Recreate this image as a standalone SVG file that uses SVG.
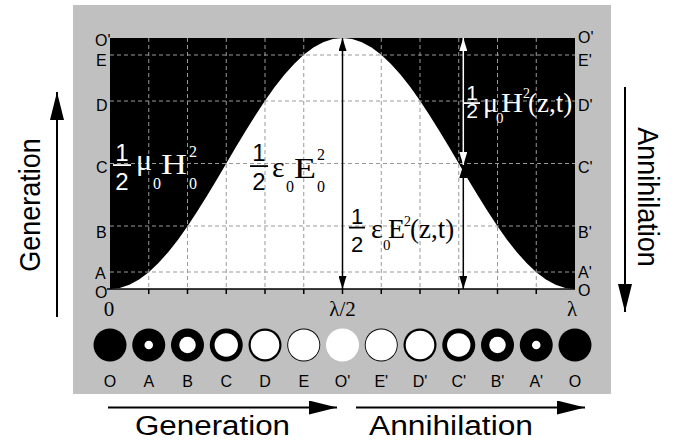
<svg xmlns="http://www.w3.org/2000/svg" width="686" height="448" viewBox="0 0 686 448">
<style>
.s{font-family:"Liberation Sans",Arial,sans-serif}
.r{font-family:"Liberation Serif","Times New Roman",serif}
.lab{font-family:"Liberation Sans",Arial,sans-serif;font-size:16px;fill:#000}
.grid{stroke:#999;stroke-width:1;stroke-dasharray:4 3;fill:none}
.big{font-family:"Liberation Sans",Arial,sans-serif;font-size:27px;fill:#000}
.w{fill:#fff}
.k{fill:#000}
</style>
<defs>
<marker id="hb" markerUnits="userSpaceOnUse" viewBox="0 0 13 8" refX="13" refY="4" markerWidth="13" markerHeight="8" orient="auto-start-reverse"><path d="M0,0 L13,4 L0,8 Z" fill="#000"/></marker>
<marker id="hw" markerUnits="userSpaceOnUse" viewBox="0 0 13 8" refX="13" refY="4" markerWidth="13" markerHeight="8" orient="auto-start-reverse"><path d="M0,0 L13,4 L0,8 Z" fill="#fff"/></marker>
<marker id="hl" markerUnits="userSpaceOnUse" viewBox="0 0 28 14" refX="28" refY="7" markerWidth="28" markerHeight="14" orient="auto"><path d="M0,0 L28,7 L0,14 Z" fill="#000"/></marker>
</defs>
<rect width="686" height="448" fill="#fff"/>
<rect id="panel" x="73" y="5" width="538" height="389" fill="#c0c0c0"/>
<g id="plot">
<rect x="110" y="38" width="465" height="251" fill="#000"/>
<path fill="#fff" d="M110,289 L119.69,287.93 L129.38,284.72 L139.06,279.45 L148.75,272.19 L158.44,263.07 L168.13,252.24 L177.81,239.9 L187.5,226.25 L197.19,211.53 L206.88,195.98 L216.56,179.88 L226.25,163.5 L235.94,147.12 L245.63,131.02 L255.31,115.47 L265,100.75 L274.69,87.1 L284.38,74.76 L294.06,63.93 L303.75,54.81 L313.44,47.55 L323.13,42.28 L332.81,39.07 L342.5,38 L352.19,39.07 L361.88,42.28 L371.56,47.55 L381.25,54.81 L390.94,63.93 L400.63,74.76 L410.31,87.1 L420,100.75 L429.69,115.47 L439.38,131.02 L449.06,147.12 L458.75,163.5 L468.44,179.88 L478.13,195.98 L487.81,211.53 L497.5,226.25 L507.19,239.9 L516.88,252.24 L526.56,263.07 L536.25,272.19 L545.94,279.45 L555.63,284.72 L565.31,287.93 L575,289 Z"/>
<path class="grid" d="M148.75,38V289 M187.5,38V289 M226.25,38V289 M265,38V289 M303.75,38V289 M342.5,38V289 M381.25,38V289 M420,38V289 M458.75,38V289 M497.5,38V289 M536.25,38V289 M110,55H575 M110,101H575 M110,163.5H575 M110,226H575 M110,272H575"/>
<path stroke="#000" stroke-width="1.5" fill="none" d="M107,289H575 M148.75,289v5 M187.5,289v5 M226.25,289v5 M265,289v5 M303.75,289v5 M342.5,289v5 M381.25,289v5 M420,289v5 M458.75,289v5 M497.5,289v5 M536.25,289v5"/>
</g>
<g id="axis-labels">
<text class="lab" x="95" y="46">O'</text>
<text class="lab" x="96" y="66">E</text>
<text class="lab" x="96" y="111">D</text>
<text class="lab" x="96" y="173">C</text>
<text class="lab" x="96" y="238">B</text>
<text class="lab" x="95" y="279">A</text>
<text class="lab" x="95" y="298">O</text>
<text class="lab" x="578" y="43">O'</text>
<text class="lab" x="578" y="66">E'</text>
<text class="lab" x="578" y="111">D'</text>
<text class="lab" x="578" y="173">C'</text>
<text class="lab" x="578" y="238">B'</text>
<text class="lab" x="578" y="278">A'</text>
<text class="lab" x="578" y="296">O</text>
<text class="r" x="109" y="316" font-size="21" text-anchor="middle">0</text>
<text class="r" x="342.5" y="316" font-size="21" text-anchor="middle">λ/2</text>
<text class="r" x="572" y="316" font-size="21" text-anchor="middle">λ</text>
</g>
<g id="connectors" fill="none">
<line x1="342.5" y1="289" x2="342.5" y2="38" stroke="#000" stroke-width="1.5" marker-start="url(#hb)" marker-end="url(#hb)"/>
<line x1="463.3" y1="165" x2="463.3" y2="38" stroke="#fff" stroke-width="1.5" marker-start="url(#hw)" marker-end="url(#hw)"/>
<line x1="463.3" y1="289" x2="463.3" y2="165" stroke="#000" stroke-width="1.5" marker-start="url(#hb)" marker-end="url(#hb)"/>
<line x1="57" y1="317" x2="57" y2="92" stroke="#000" stroke-width="2" marker-end="url(#hl)"/>
<line x1="625" y1="87" x2="625" y2="312" stroke="#000" stroke-width="2" marker-end="url(#hl)"/>
<line x1="108" y1="407.5" x2="337" y2="407.5" stroke="#000" stroke-width="2" marker-end="url(#hl)"/>
<line x1="356" y1="407.5" x2="585" y2="407.5" stroke="#000" stroke-width="2" marker-end="url(#hl)"/>
</g>
<g id="f-h0" class="w">
<text class="s" x="122" y="161" font-size="24" text-anchor="middle">1</text>
<rect x="113" y="164.2" width="18" height="1.8"/>
<text class="s" x="122" y="190" font-size="24" text-anchor="middle">2</text>
<text class="r" x="136" y="170" font-size="30">μ</text>
<text class="r" x="153" y="189" font-size="16">0</text>
<text class="r" x="161" y="174" font-size="30" textLength="26" lengthAdjust="spacingAndGlyphs">H</text>
<text class="r" x="189" y="157" font-size="16">2</text>
<text class="r" x="189" y="189" font-size="16">0</text>
</g>
<g id="f-e0" class="k">
<text class="s" x="259" y="161" font-size="24" text-anchor="middle">1</text>
<rect x="250" y="165.2" width="18" height="1.8"/>
<text class="s" x="259" y="190" font-size="24" text-anchor="middle">2</text>
<text class="r" x="272" y="177" font-size="30">ε</text>
<text class="r" x="286" y="192" font-size="16">0</text>
<text class="r" x="294" y="178" font-size="30" textLength="22" lengthAdjust="spacingAndGlyphs">E</text>
<text class="r" x="317" y="160" font-size="16">2</text>
<text class="r" x="317" y="192" font-size="16">0</text>
</g>
<g id="f-ezt" class="k">
<text class="s" x="357" y="224" font-size="22" text-anchor="middle">1</text>
<rect x="349" y="226.7" width="16" height="1.8"/>
<text class="s" x="357" y="252" font-size="22" text-anchor="middle">2</text>
<text class="r" x="371" y="238" font-size="28">ε</text>
<text class="r" x="383" y="250" font-size="15">0</text>
<text class="r" x="388" y="238" font-size="28" textLength="17" lengthAdjust="spacingAndGlyphs">E</text>
<text class="r" x="404" y="226" font-size="14">2</text>
<text class="r" x="410" y="238" font-size="27">(z,t)</text>
</g>
<g id="f-hzt" class="w">
<text class="s" x="472" y="100" font-size="21" text-anchor="middle">1</text>
<rect x="464" y="102.2" width="16" height="1.8"/>
<text class="s" x="472" y="118" font-size="21" text-anchor="middle">2</text>
<text class="r" x="483" y="112" font-size="28">μ</text>
<text class="r" x="496" y="123" font-size="15">0</text>
<text class="r" x="501" y="112" font-size="28" textLength="22" lengthAdjust="spacingAndGlyphs">H</text>
<text class="r" x="523" y="98" font-size="14">2</text>
<text class="r" x="528" y="112" font-size="27">(z,t)</text>
</g>
<g id="circles">
<g id="c-O1"><circle cx="110" cy="345" r="16.5" fill="#000"/></g>
<g id="c-A"><circle cx="148.75" cy="345" r="16.5" fill="#000"/><circle cx="148.75" cy="345" r="4.27" fill="#fff"/></g>
<g id="c-B"><circle cx="187.5" cy="345" r="16.5" fill="#000"/><circle cx="187.5" cy="345" r="8.25" fill="#fff"/></g>
<g id="c-C"><circle cx="226.25" cy="345" r="16.5" fill="#000"/><circle cx="226.25" cy="345" r="11.67" fill="#fff"/></g>
<g id="c-D"><circle cx="265" cy="345" r="16.5" fill="#000"/><circle cx="265" cy="345" r="14.29" fill="#fff"/></g>
<g id="c-E"><circle cx="303.75" cy="345" r="16.5" fill="#000"/><circle cx="303.75" cy="345" r="15.6" fill="#fff"/></g>
<g id="c-Op"><circle cx="342.5" cy="345" r="16.5" fill="#fff"/></g>
<g id="c-Ep"><circle cx="381.25" cy="345" r="16.5" fill="#000"/><circle cx="381.25" cy="345" r="15.6" fill="#fff"/></g>
<g id="c-Dp"><circle cx="420" cy="345" r="16.5" fill="#000"/><circle cx="420" cy="345" r="14.29" fill="#fff"/></g>
<g id="c-Cp"><circle cx="458.75" cy="345" r="16.5" fill="#000"/><circle cx="458.75" cy="345" r="11.67" fill="#fff"/></g>
<g id="c-Bp"><circle cx="497.5" cy="345" r="16.5" fill="#000"/><circle cx="497.5" cy="345" r="8.25" fill="#fff"/></g>
<g id="c-Ap"><circle cx="536.25" cy="345" r="16.5" fill="#000"/><circle cx="536.25" cy="345" r="4.27" fill="#fff"/></g>
<g id="c-O2"><circle cx="575" cy="345" r="16.5" fill="#000"/></g>
</g>
<g id="circle-labels" class="lab" text-anchor="middle">
<text x="110" y="387">O</text>
<text x="148.75" y="387">A</text>
<text x="187.5" y="387">B</text>
<text x="226.25" y="387">C</text>
<text x="265" y="387">D</text>
<text x="303.75" y="387">E</text>
<text x="342.5" y="387">O'</text>
<text x="381.25" y="387">E'</text>
<text x="420" y="387">D'</text>
<text x="458.75" y="387">C'</text>
<text x="497.5" y="387">B'</text>
<text x="536.25" y="387">A'</text>
<text x="575" y="387">O</text>
</g>
<g id="titles">
<text class="big" transform="translate(40,205) scale(1.12,1) rotate(-90)" font-size="32" text-anchor="middle">Generation</text>
<text class="big" transform="translate(638,197) scale(1.12,1) rotate(90)" font-size="32" text-anchor="middle">Annihilation</text>
<text class="big" x="135" y="435" textLength="155" lengthAdjust="spacingAndGlyphs">Generation</text>
<text class="big" x="369" y="435" textLength="164" lengthAdjust="spacingAndGlyphs">Annihilation</text>
</g>
</svg>
